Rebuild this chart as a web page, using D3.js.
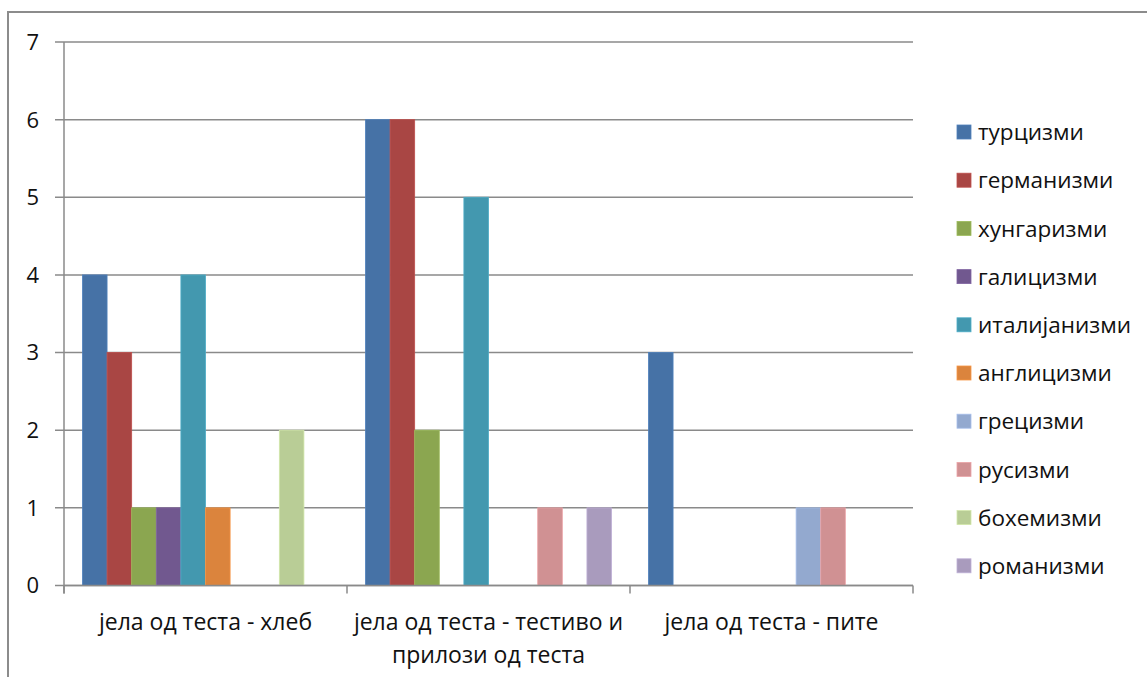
<!DOCTYPE html>
<html>
<head>
<meta charset="utf-8">
<script src="https://cdn.jsdelivr.net/npm/d3@7"></script>
<style>
  html, body { margin: 0; padding: 0; background: #fff; }
  svg { display: block; font-family: "Open Sans", "Noto Sans", sans-serif; }
</style>
</head>
<body>
<svg id="chart" width="1147" height="677"></svg>
<script>
// Categories along the x axis (second one wraps onto two lines)
const categories = [
  ["јела од теста - хлеб"],
  ["јела од теста - тестиво и", "прилози од теста"],
  ["јела од теста - пите"]
];

// Series names, in legend order
const seriesNames = [
  "турцизми", "германизми", "хунгаризми", "галицизми", "италијанизми",
  "англицизми", "грецизми", "русизми", "бохемизми", "романизми"
];

// Counts per series, one value per category
const turcizmi     = [4, 6, 3];
const germanizmi   = [3, 6, 0];
const hungarizmi   = [1, 2, 0];
const galicizmi    = [1, 0, 0];
const italijanizmi = [4, 5, 0];
const anglicizmi   = [1, 0, 0];
const grecizmi     = [0, 0, 1];
const rusizmi      = [0, 1, 1];
const bohemizmi    = [2, 0, 0];
const romanizmi    = [0, 1, 0];

const seriesValues = [
  turcizmi, germanizmi, hungarizmi, galicizmi, italijanizmi,
  anglicizmi, grecizmi, rusizmi, bohemizmi, romanizmi
];

const yTicks = [0, 1, 2, 3, 4, 5, 6, 7];

const colors = [
  "#4672a6", "#a94644", "#8ba650", "#71588f", "#4398af",
  "#db843d", "#93a9cf", "#d09193", "#b9cd96", "#a99bbd"
];

const svg = d3.select("#chart");

// Outer chart frame (runs past the right and bottom edges of the view)
svg.append("rect")
  .attr("x", 8).attr("y", 12)
  .attr("width", 1200).attr("height", 720)
  .attr("fill", "#fff")
  .attr("stroke", "#8c8c8c")
  .attr("stroke-width", 2);

const plot = { left: 64, right: 913, top: 42, bottom: 585.5 };

const x0 = d3.scaleBand()
  .domain(d3.range(categories.length))
  .range([plot.left, plot.right])
  .paddingInner(0).paddingOuter(0);

// 150% gap width: each side gets 0.75 bar widths
const x1 = d3.scaleBand()
  .domain(d3.range(seriesNames.length))
  .range([0, x0.bandwidth()])
  .paddingInner(0)
  .paddingOuter(0.75);

const y = d3.scaleLinear().domain([0, 7]).range([plot.bottom, plot.top]);

// Horizontal gridlines
svg.append("g")
  .selectAll("line")
  .data(yTicks)
  .join("line")
  .attr("x1", plot.left - 9)
  .attr("x2", plot.right)
  .attr("y1", d => y(d))
  .attr("y2", d => y(d))
  .attr("stroke", "#8a8a8a")
  .attr("stroke-width", 1.5);

// Y axis labels
svg.append("g")
  .selectAll("text")
  .data(yTicks)
  .join("text")
  .attr("x", 39)
  .attr("y", d => y(d))
  .attr("dy", "0.36em")
  .attr("text-anchor", "end")
  .attr("font-size", 22)
  .attr("fill", "#111")
  .text(d => d);

// Y axis line
svg.append("line")
  .attr("x1", plot.left).attr("x2", plot.left)
  .attr("y1", plot.top).attr("y2", plot.bottom + 8)
  .attr("stroke", "#8a8a8a").attr("stroke-width", 1.5);

// Bars
const groups = svg.append("g")
  .selectAll("g")
  .data(categories.map((c, i) => i))
  .join("g")
  .attr("transform", i => `translate(${x0(i)},0)`);

groups.selectAll("rect")
  .data(ci => seriesValues.map((vals, si) => ({ si, v: vals[ci] })).filter(d => d.v > 0))
  .join("rect")
  .attr("x", d => x1(d.si))
  .attr("width", x1.bandwidth())
  .attr("y", d => y(d.v))
  .attr("height", d => y(0) - y(d.v))
  .attr("fill", d => colors[d.si])
  .attr("stroke", d => d3.color(colors[d.si]).brighter(0.35))
  .attr("stroke-width", 0.8);

// X axis line with category tick marks
svg.append("line")
  .attr("x1", plot.left).attr("x2", plot.right)
  .attr("y1", plot.bottom).attr("y2", plot.bottom)
  .attr("stroke", "#8a8a8a").attr("stroke-width", 1.5);

svg.append("g")
  .selectAll("line")
  .data(d3.range(categories.length + 1))
  .join("line")
  .attr("x1", i => plot.left + i * x0.bandwidth())
  .attr("x2", i => plot.left + i * x0.bandwidth())
  .attr("y1", plot.bottom)
  .attr("y2", plot.bottom + 8)
  .attr("stroke", "#8a8a8a").attr("stroke-width", 1.5);

// Category labels
const catLabels = svg.append("g")
  .selectAll("text")
  .data(categories)
  .join("text")
  .attr("x", (d, i) => x0(i) + x0.bandwidth() / 2)
  .attr("y", 630)
  .attr("text-anchor", "middle")
  .attr("font-size", 23)
  .attr("fill", "#111");

catLabels.selectAll("tspan")
  .data(d => d)
  .join("tspan")
  .attr("x", function () { return d3.select(this.parentNode).attr("x"); })
  .attr("dy", (d, i) => i === 0 ? 0 : 33)
  .text(d => d);

// Legend
const legend = svg.append("g")
  .selectAll("g")
  .data(seriesNames)
  .join("g")
  .attr("transform", (d, i) => `translate(957, ${132 + i * 48.2})`);

legend.append("rect")
  .attr("x", 0).attr("y", -7)
  .attr("width", 14).attr("height", 14)
  .attr("fill", (d, i) => colors[i])
  .attr("stroke", (d, i) => d3.color(colors[i]).brighter(0.35))
  .attr("stroke-width", 0.8);

legend.append("text")
  .attr("x", 21)
  .attr("dy", "0.36em")
  .attr("font-size", 22.5)
  .attr("fill", "#111")
  .text(d => d);
</script>
</body>
</html>
